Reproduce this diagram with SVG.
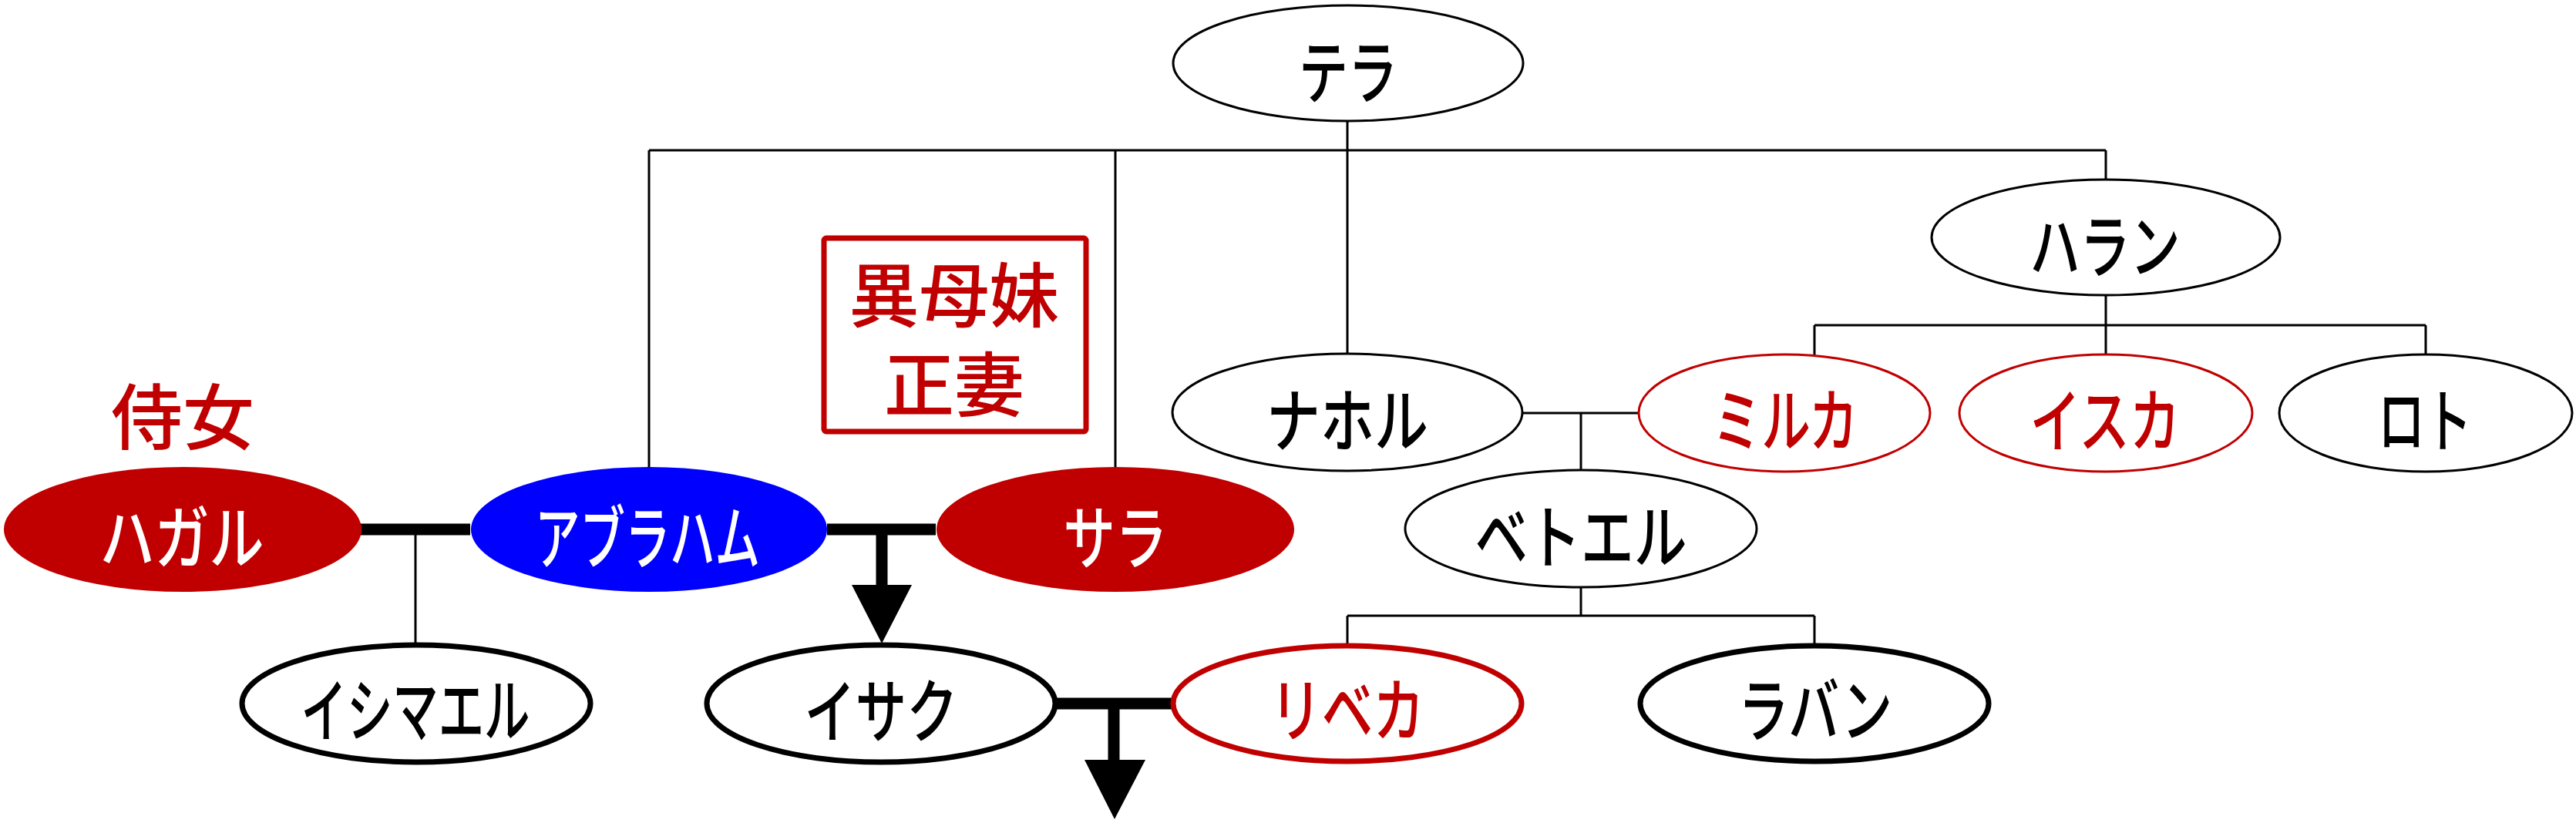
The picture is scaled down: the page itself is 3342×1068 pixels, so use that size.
<svg xmlns="http://www.w3.org/2000/svg" width="3342" height="1068" viewBox="0 0 3342 1068">
<style>
.n{fill:#fff;stroke:#000;stroke-width:3}
.nt{fill:#fff;stroke:#000;stroke-width:7}
.nr{fill:#fff;stroke:#c00000;stroke-width:3}
.nrt{fill:#fff;stroke:#c00000;stroke-width:7}
.fr{fill:#c00000;stroke:none}
.fb{fill:#0000ff;stroke:none}
text{font-family:"Noto Sans CJK JP","Noto Sans CJK SC",sans-serif;font-size:90px;font-weight:500;text-anchor:middle;dominant-baseline:central}
.k{font-size:93px}
.kb{font-size:91px}
.b{fill:#000}.w{fill:#fff}.r{fill:#c00000}
.thin{stroke:#000;stroke-width:3;fill:none}
.thick{stroke:#000;stroke-width:15;fill:none}
</style>
<rect width="3342" height="1068" fill="#fff"/>
<g id="connectors">
<path class="thin" d="M842,195H2732M1748,157V460M842,195V606M1447,195V606M2732,195V234"/>
<path class="thin" d="M2732,383V422M2354,422H3147M2354,422V465M2732,422V460M3147,422V460"/>
<path class="thin" d="M1975,536H2127M2051,536V611"/>
<path class="thin" d="M2051,762V799M1748,799H2354M1748,799V838M2354,799V838"/>
<path class="thick" d="M468,687H610M1073,687H1214M1369,913H1522"/>
<path class="thin" d="M539,687V838"/>
<path class="thick" d="M1144,687V762M1445,913V988"/>
<polygon points="1105,759 1183,759 1144,835" fill="#000"/>
<polygon points="1407,986 1486,986 1446,1063" fill="#000"/>
</g>
<g id="tera"><ellipse class="n" cx="1749" cy="82" rx="227" ry="75"/><text class="b" x="1749" y="88" textLength="128" lengthAdjust="spacingAndGlyphs">テラ</text></g>
<g id="haran"><ellipse class="n" cx="2732" cy="308" rx="226" ry="75"/><text class="b" x="2731" y="314" textLength="195" lengthAdjust="spacingAndGlyphs">ハラン</text></g>
<g id="nahor"><ellipse class="n" cx="1748" cy="535" rx="227" ry="76"/><text class="b" x="1748" y="540" textLength="210" lengthAdjust="spacingAndGlyphs">ナホル</text></g>
<g id="milcah"><ellipse class="nr" cx="2315" cy="536" rx="189" ry="76"/><text class="r" x="2316" y="540" textLength="189" lengthAdjust="spacingAndGlyphs">ミルカ</text></g>
<g id="iscah"><ellipse class="nr" cx="2732" cy="536" rx="190" ry="76"/><text class="r" x="2731" y="540" textLength="195" lengthAdjust="spacingAndGlyphs">イスカ</text></g>
<g id="lot"><ellipse class="n" cx="3147" cy="536" rx="190" ry="76"/><text class="b" x="3146" y="540" textLength="122" lengthAdjust="spacingAndGlyphs">ロト</text></g>
<g id="bethuel"><ellipse class="n" cx="2051" cy="686" rx="228" ry="76"/><text class="b" x="2051" y="691" textLength="275" lengthAdjust="spacingAndGlyphs">ベトエル</text></g>
<g id="rebekah"><ellipse class="nrt" cx="1748" cy="913" rx="226" ry="75"/><text class="r" x="1748" y="916" textLength="200" lengthAdjust="spacingAndGlyphs">リベカ</text></g>
<g id="laban"><ellipse class="nt" cx="2354" cy="913" rx="226" ry="75"/><text class="b" x="2355" y="916" textLength="200" lengthAdjust="spacingAndGlyphs">ラバン</text></g>
<g id="isaac"><ellipse class="nt" cx="1143" cy="913" rx="226" ry="76"/><text class="b" x="1143" y="917" textLength="199" lengthAdjust="spacingAndGlyphs">イサク</text></g>
<g id="ishmael"><ellipse class="nt" cx="540" cy="913" rx="226" ry="76"/><text class="b" x="539" y="916" textLength="297" lengthAdjust="spacingAndGlyphs">イシマエル</text></g>
<g id="hagar"><ellipse class="fr" cx="237" cy="687" rx="232" ry="81"/><text class="w" x="236" y="692" textLength="213" lengthAdjust="spacingAndGlyphs">ハガル</text></g>
<g id="abraham"><ellipse class="fb" cx="842" cy="687" rx="231" ry="81"/><text class="w" x="840" y="692" textLength="292" lengthAdjust="spacingAndGlyphs">アブラハム</text></g>
<g id="sarah"><ellipse class="fr" cx="1447" cy="687" rx="232" ry="81"/><text class="w" x="1447" y="692" textLength="135" lengthAdjust="spacingAndGlyphs">サラ</text></g>
<g id="maid"><text class="r k" x="237" y="535">侍女</text></g>
<g id="half-sister"><rect x="1069" y="309" width="340" height="251" rx="3" fill="none" stroke="#c00000" stroke-width="7"/><text class="r kb" x="1238" y="377">異母妹</text><text class="r kb" x="1238" y="493">正妻</text></g>
</svg>
